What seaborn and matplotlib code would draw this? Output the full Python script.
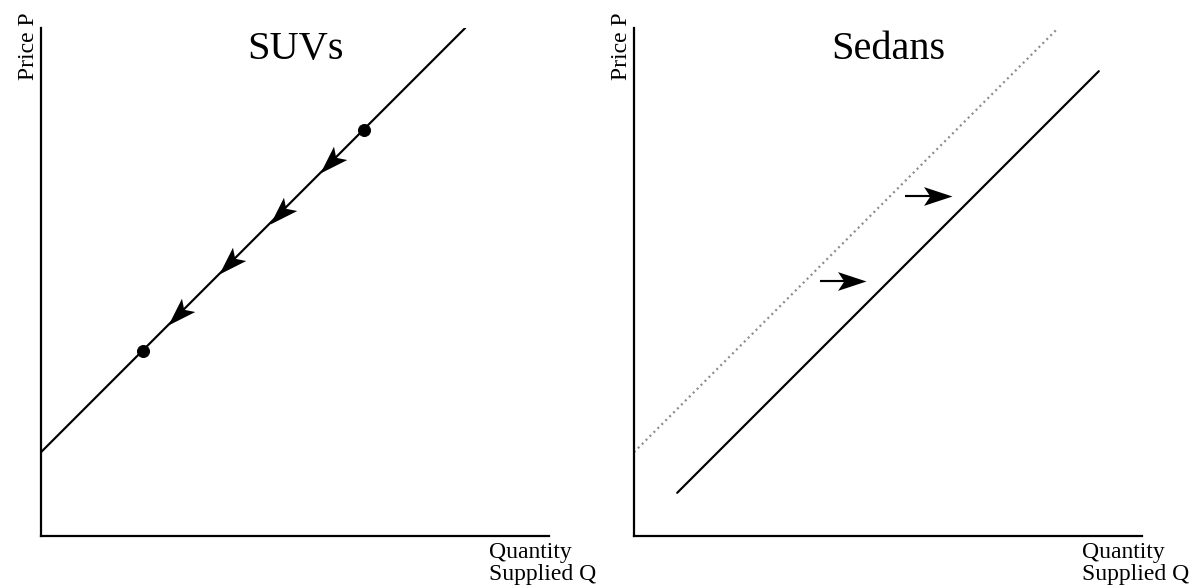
import numpy as np
import pandas as pd
import matplotlib
matplotlib.use("Agg")
import matplotlib.pyplot as plt
from matplotlib.markers import MarkerStyle
from matplotlib.path import Path
from matplotlib.transforms import Affine2D
import seaborn as sns

# ---- data -------------------------------------------------------------
# SUV supply curve (movement along the curve)
suv_q = [0.0, 8.35]
suv_p = [1.65, 10.0]
suv_points_q = [2.0, 6.35]
suv_points_p = [3.65, 8.0]
suv_arrow_q = [5.5, 4.5, 3.5, 2.5]
suv_arrow_p = [7.15, 6.15, 5.15, 4.15]

# Sedan supply curves (shift of the curve)
sedan_old_q = [0.0, 8.35]
sedan_old_p = [1.65, 10.0]
sedan_new_q = [0.85, 9.15]
sedan_new_p = [0.85, 9.15]
shift_tail_q = [3.66, 5.33]
shift_tip_q = [4.57, 6.26]
shift_p = [5.02, 6.69]

titles = ["SUVs", "Sedans"]
y_label = "Price P"
x_label = "Quantity\nSupplied Q"

# ---- style ------------------------------------------------------------
sns.set_style("white")
plt.rcParams["font.family"] = ["Liberation Serif", "DejaVu Serif"]
plt.rcParams["text.color"] = "black"

W, H = 1196, 588
fig = plt.figure(figsize=(W / 100, H / 100), dpi=100)

def px_axes(left, bottom, width, height):
    return fig.add_axes([left / W, bottom / H, width / W, height / H])

ax1 = px_axes(41, 52, 508, 508)
ax2 = px_axes(634, 52, 508, 508)

# stealth-style arrowhead, tip at the origin pointing along +x
head_path = Path([(0, 0), (-1, 0.33), (-0.78, 0), (-1, -0.33), (0, 0)],
                 [Path.MOVETO, Path.LINETO, Path.LINETO, Path.LINETO, Path.CLOSEPOLY])

def head_marker(angle):
    return MarkerStyle(head_path, transform=Affine2D().rotate_deg(angle))

LW = 1.55
HEAD_MS = 41

for ax, title in zip((ax1, ax2), titles):
    ax.set_xlim(0, 10)
    ax.set_ylim(0, 10)
    ax.set_xticks([])
    ax.set_yticks([])
    ax.set_xlabel("")
    ax.set_ylabel("")
    for s in ("top", "right"):
        ax.spines[s].set_visible(False)
    for s in ("left", "bottom"):
        ax.spines[s].set_linewidth(1.6)
        ax.spines[s].set_color("black")
    ax.text(0.5, 0.958, title, transform=ax.transAxes, ha="center", va="center",
            fontsize=29, color="black")
    ax.text(-0.025, 1.03, y_label, transform=ax.transAxes, rotation=90,
            ha="center", va="top", fontsize=17, color="black")
    ax.text(0.882, -0.012, x_label, transform=ax.transAxes, ha="left", va="top",
            fontsize=17, linespacing=1.08, color="black")

# ---- left panel: SUVs -------------------------------------------------
sns.lineplot(x=suv_q, y=suv_p, ax=ax1, color="black", lw=LW, sort=False)
sns.scatterplot(x=suv_points_q, y=suv_points_p, ax=ax1, color="black", s=75,
                edgecolor="black", zorder=4)
ax1.plot(suv_arrow_q, suv_arrow_p, linestyle="none", marker=head_marker(225),
         markersize=HEAD_MS, color="black", markeredgewidth=0, zorder=5)

# ---- right panel: Sedans ----------------------------------------------
sns.lineplot(x=sedan_old_q, y=sedan_old_p, ax=ax2, color="#8c8c8c", lw=1.6,
             sort=False, linestyle=(0, (0.9, 1.6)))
sns.lineplot(x=sedan_new_q, y=sedan_new_p, ax=ax2, color="black", lw=LW, sort=False)

head_len = 0.5 * HEAD_MS * (100 / 72) / 50.8  # arrowhead length in data units
for tq, hq, p in zip(shift_tail_q, shift_tip_q, shift_p):
    ax2.plot([tq, hq - 0.7 * head_len], [p, p], color="black", lw=LW,
             solid_capstyle="butt")
    ax2.plot([hq], [p], linestyle="none", marker=head_marker(0), markersize=HEAD_MS,
             color="black", markeredgewidth=0, zorder=5)

for ax in (ax1, ax2):
    leg = ax.get_legend()
    if leg is not None:
        leg.remove()

fig.savefig("out.png", dpi=100, facecolor="white")
